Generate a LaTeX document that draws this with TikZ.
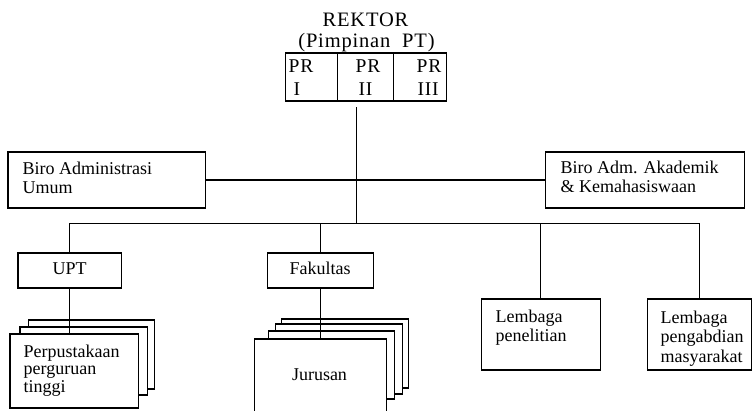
\documentclass[tikz,border=0pt]{standalone}
\usepackage{fontspec}
\setmainfont{Liberation Serif}
\newfontfamily\wide[LetterSpace=4]{Liberation Serif}
\usetikzlibrary{positioning}

\newcommand{\baris}[1]{\begin{tabular}[t]{@{}l@{}}#1\end{tabular}}

\tikzset{
    box/.style={draw, line width=1.3pt, fill=white, inner sep=0pt, anchor=north west},
    cell/.style={box, minimum height=48pt},
    txt/.style={inner sep=0pt, anchor=base west, font=\fontsize{18}{19.3}\selectfont},
    head/.style={inner sep=0pt, anchor=base, font=\wide\fontsize{20.5}{21}\selectfont},
    celltxt/.style={txt, font=\wide\fontsize{19.5}{23.2}\selectfont},
    link/.style={line width=1.3pt},
}

\begin{document}
\begin{tikzpicture}[x=1pt, y=-1pt]

    \useasboundingbox (-0.5,-0.5) rectangle (755.5,410.5);
    \clip (-0.5,-0.5) rectangle (755.5,410.5);

    \node[head] (rektor) at (365,26) {REKTOR};
    \node[head] (pimpinan) at (366,47) {(Pimpinan\ \ PT)};

    \node[cell, minimum width=52pt] (pr1) at (284,52) {};
    \node[cell, minimum width=56pt] (pr2) at (336,52) {};
    \node[cell, minimum width=53pt] (pr3) at (392,52) {};
    \node[celltxt] (pr1t) at (288,72) {\baris{PR\\\hspace{5pt}I}};
    \node[celltxt] (pr2t) at (355,72) {\baris{PR\\\hspace{3pt}II}};
    \node[celltxt] (pr3t) at (416,72) {\baris{PR\\\hspace{1pt}III}};

    \coordinate (top) at (356,107);
    \coordinate (bus) at (356,223);

    \node[box, minimum width=197pt, minimum height=56pt] (bau) at (7,151) {};
    \node[txt] (baut) at (22,174) {\baris{Biro Administrasi\\Umum}};
    \node[box, minimum width=199pt, minimum height=56pt] (bak) at (544,151) {};
    \node[txt] (bakt) at (560,173) {\baris{Biro Adm. Akademik\\\& Kemahasiswaan}};

    \node[box, minimum width=103pt, minimum height=35pt] (upt) at (17,252) {};
    \node[txt, anchor=base] (uptt) at (upt.north |- 0,274) {UPT};
    \node[box, minimum width=106pt, minimum height=35pt] (fak) at (266,252) {};
    \node[txt, anchor=base] (fakt) at (fak.north |- 0,274) {Fakultas};

    \node[box, minimum width=119pt, minimum height=71pt] (lp) at (480,298) {};
    \node[txt] (lpt) at (495,322) {\baris{Lembaga\\penelitian}};
    \node[box, minimum width=104pt, minimum height=71pt] (lm) at (646,298) {};
    \node[txt] (lmt) at (660,323) {\baris{Lembaga\\pengabdian\\masyarakat}};

    % tumpukan perpustakaan
    \node[box, minimum width=126pt, minimum height=69pt] (pt3) at (27,319) {};
    \node[box, minimum width=127pt, minimum height=68pt] (pt2) at (19,326) {};
    \draw[link] (upt.south) -- (upt.south |- pt2.north);
    \node[box, minimum width=128pt, minimum height=74pt] (pt) at (9,333) {};
    \node[txt, font=\fontsize{18}{17.5}\selectfont] (ptt) at (23,357)
        {\baris{Perpustakaan\\perguruan\\tinggi}};

    % tumpukan jurusan
    \node[box, minimum width=127pt, minimum height=69pt] (jr4) at (280,318) {};
    \node[box, minimum width=127pt, minimum height=70pt] (jr3) at (274,323) {};
    \node[box, minimum width=126pt, minimum height=68pt] (jr2) at (267,330) {};
    \draw[link] (fak.south) -- (fak.south |- jr4.north);
    \node[box, minimum width=132pt, minimum height=90pt] (jr) at (253,338) {};
    \node[txt, anchor=base] (jrt) at (319,380) {Jurusan};

    \draw[link] (upt.south |- pt2.north) -- (pt.north -| upt.south);
    \draw[link] (fak.south |- jr4.north) -- (jr.north -| fak.south);

    \draw[link] (top) -- (bus);
    \draw[link] (bau.east) -- (bak.west);
    \draw[link] (upt.north) -- (upt.north |- bus) -- (lm.north |- bus) -- (lm.north);
    \draw[link] (fak.north) -- (fak.north |- bus);
    \draw[link] (lp.north) -- (lp.north |- bus);

\end{tikzpicture}
\end{document}
